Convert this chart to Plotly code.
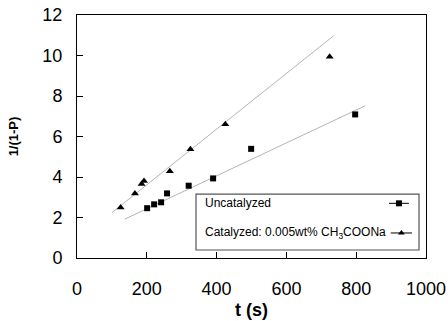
import plotly.graph_objects as go

# Uncatalyzed runs: time (s) and 1/(1-P)
uncat_t = [201, 221, 241, 258, 320, 390, 499, 797]
uncat_y = [2.46, 2.65, 2.75, 3.19, 3.57, 3.93, 5.39, 7.09]

# Catalyzed runs (0.005 wt% CH3COONa)
cat_t = [125, 166, 185, 192, 266, 325, 425, 724]
cat_y = [2.5, 3.19, 3.65, 3.8, 4.29, 5.37, 6.6, 9.94]

# Linear trend lines (end points)
uncat_fit_t = [137, 826]
uncat_fit_y = [1.92, 7.52]
cat_fit_t = [100, 735]
cat_fit_y = [2.24, 10.97]

x_ticks = [0, 200, 400, 600, 800, 1000]
y_ticks = [0, 2, 4, 6, 8, 10, 12]

legend_labels = ["Uncatalyzed", "Catalyzed: 0.005wt% CH<sub>3</sub>COONa"]

FONT = "Arial, 'Liberation Sans', Helvetica, sans-serif"
fit_color = "#b4b4b4"

fig = go.Figure()

fig.add_trace(go.Scatter(x=uncat_fit_t, y=uncat_fit_y, mode="lines",
                         line=dict(color=fit_color, width=1), showlegend=False,
                         hoverinfo="skip"))
fig.add_trace(go.Scatter(x=cat_fit_t, y=cat_fit_y, mode="lines",
                         line=dict(color=fit_color, width=1), showlegend=False,
                         hoverinfo="skip"))
fig.add_trace(go.Scatter(x=uncat_t, y=uncat_y, mode="markers", name=legend_labels[0],
                         marker=dict(symbol="square", size=6, color="black"),
                         showlegend=False))
fig.add_trace(go.Scatter(x=cat_t, y=cat_y, mode="markers", name=legend_labels[1],
                         marker=dict(symbol="triangle-up", size=7, color="black"),
                         showlegend=False))

# Legend box drawn inside the plot, with sample glyphs on the right
box = dict(x0=0.341, x1=0.980, y0=0.033, y1=0.263)
rows_y = [0.225, 0.103]
glyph_x = [[0.894, 0.951], [0.899, 0.960]]
glyph_symbols = ["square", "triangle-up"]
glyph_sizes = [6, 6]

shapes = [dict(type="rect", xref="paper", yref="paper", **box,
               line=dict(color="#555555", width=1.2), layer="above")]
for (gx0, gx1), ry in zip(glyph_x, rows_y):
    shapes.append(dict(type="line", xref="paper", yref="paper", x0=gx0, x1=gx1,
                       y0=ry, y1=ry, line=dict(color="black", width=1), layer="above"))

annotations = []
for label, ry in zip(legend_labels, rows_y):
    annotations.append(dict(text=label, xref="paper", yref="paper", x=0.361, y=ry,
                            xanchor="left", yanchor="middle", showarrow=False,
                            font=dict(family=FONT, size=12, color="black")))

for (gx0, gx1), ry, sym, sz in zip(glyph_x, rows_y, glyph_symbols, glyph_sizes):
    fig.add_trace(go.Scatter(x=[(gx0 + gx1) / 2], y=[ry], xaxis="x2", yaxis="y2",
                             mode="markers", showlegend=False, hoverinfo="skip",
                             marker=dict(symbol=sym, size=sz, color="black")))

fig.update_layout(
    width=448, height=321,
    margin=dict(l=77, r=22, t=15, b=63),
    paper_bgcolor="white", plot_bgcolor="white",
    font=dict(family=FONT, color="black"),
    showlegend=False,
    shapes=shapes,
    annotations=annotations,
    xaxis=dict(range=[0, 1000], tickvals=x_ticks, ticks="inside", ticklen=6,
               tickcolor="black", showline=True, linecolor="black", linewidth=1,
               mirror=True, showgrid=False, zeroline=False, automargin=False,
               tickfont=dict(size=18), ticklabelstandoff=14,
               title=dict(text="<b>t (s)</b>", font=dict(size=18), standoff=5)),
    yaxis=dict(range=[0, 12], tickvals=y_ticks, ticks="inside", ticklen=6,
               tickcolor="black", showline=True, linecolor="black", linewidth=1,
               mirror=True, showgrid=False, zeroline=False, automargin=False,
               tickfont=dict(size=18), ticklabelstandoff=10,
               title=dict(text="<b>1/(1-P)</b>", font=dict(size=13), standoff=20)),
    xaxis2=dict(range=[0, 1], overlaying="x", visible=False, fixedrange=True),
    yaxis2=dict(range=[0, 1], overlaying="y", visible=False, fixedrange=True),
)

fig.write_html("out.html")
